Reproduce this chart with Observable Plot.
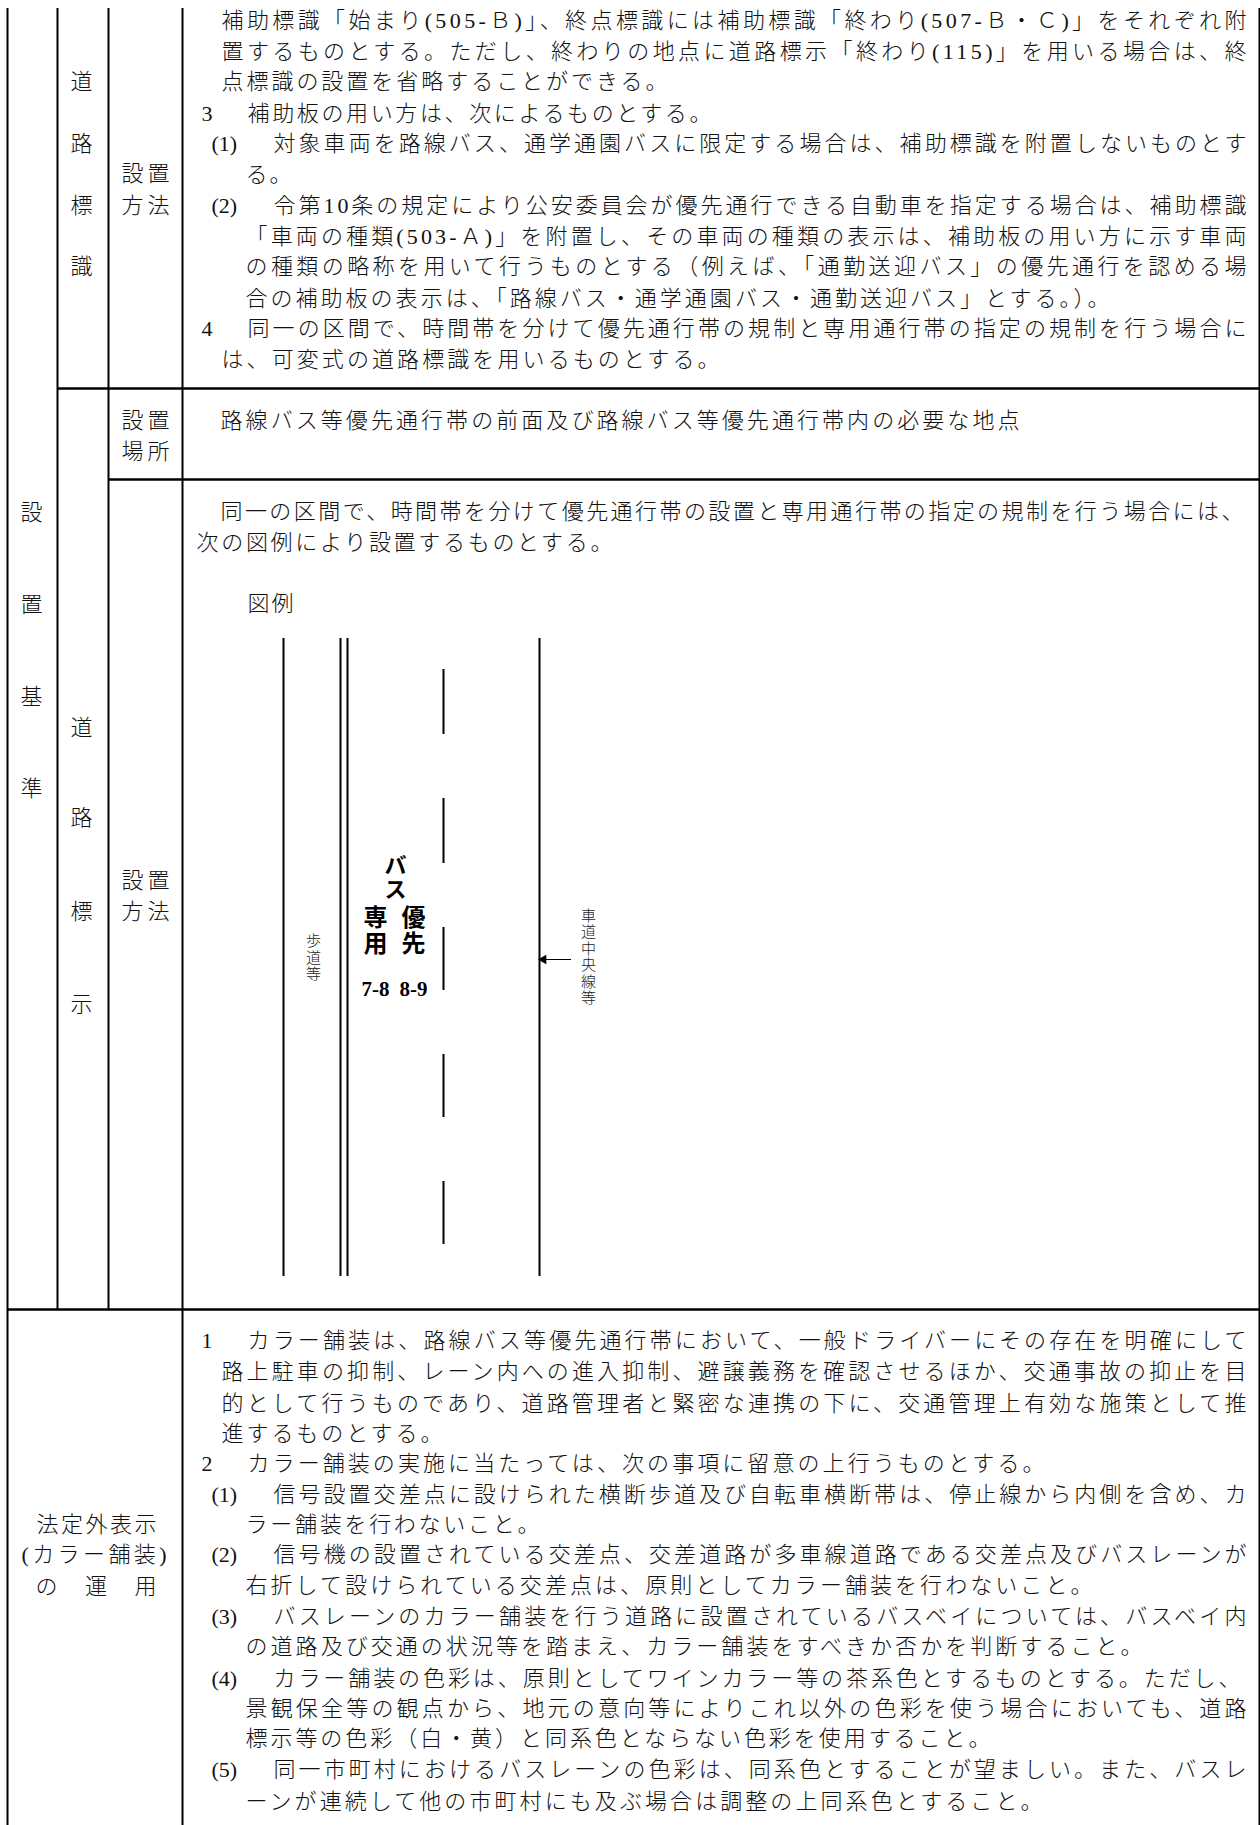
<!DOCTYPE html>
<html lang="ja">
<head>
<meta charset="utf-8">
<style>html,body{margin:0;padding:0;background:#fff}svg{display:block}</style>
<script src="https://cdn.jsdelivr.net/npm/d3@7"></script>
<script src="https://cdn.jsdelivr.net/npm/@observablehq/plot@0.6"></script>
</head>
<body>
<div id="chart"></div>
<script>
const mincho = '"Liberation Serif","Noto Sans CJK JP",serif';

// table rules
const vLines = [[7,8,1825],[57,8,1309],[108,8,1309],[182,8,1825],[1259,8,1825]];
const hLines = [[57,1259,388],[108,1259,479],[7,1259,1309]];

// body text: [text, start, end, centre]
const bodyLines = [
 ["補助標識「始まり(505-Ｂ)」、終点標識には補助標識「終わり(507-Ｂ・Ｃ)」をそれぞれ附",221,1246,20],
 ["置するものとする。ただし、終わりの地点に道路標示「終わり(115)」を用いる場合は、終",221,1246,51],
 ["点標識の設置を省略することができる。",221,667,81],
 ["補助板の用い方は、次によるものとする。",247,711,113],
 ["対象車両を路線バス、通学通園バスに限定する場合は、補助標識を附置しないものとす",273,1246,143],
 ["る。",245,291,174],
 ["令第10条の規定により公安委員会が優先通行できる自動車を指定する場合は、補助標識",273,1246,205],
 ["「車両の種類(503-Ａ)」を附置し、その車両の種類の表示は、補助板の用い方に示す車両",245,1246,236],
 ["の種類の略称を用いて行うものとする（例えば、「通勤送迎バス」の優先通行を認める場",245,1246,266],
 ["合の補助板の表示は、「路線バス・通学通園バス・通勤送迎バス」とする。）。",245,1109,298],
 ["同一の区間で、時間帯を分けて優先通行帯の規制と専用通行帯の指定の規制を行う場合に",247,1246,328],
 ["は、可変式の道路標識を用いるものとする。",221,719,359],
 ["路線バス等優先通行帯の前面及び路線バス等優先通行帯内の必要な地点",220,1019,420],
 ["同一の区間で、時間帯を分けて優先通行帯の設置と専用通行帯の指定の規制を行う場合には、",220,1243,511],
 ["次の図例により設置するものとする。",196,612,542],
 ["図例",247,293,603],
 ["カラー舗装は、路線バス等優先通行帯において、一般ドライバーにその存在を明確にして",247,1246,1340],
 ["路上駐車の抑制、レーン内への進入抑制、避譲義務を確認させるほか、交通事故の抑止を目",221,1246,1371],
 ["的として行うものであり、道路管理者と緊密な連携の下に、交通管理上有効な施策として推",221,1246,1403],
 ["進するものとする。",221,442,1433],
 ["カラー舗装の実施に当たっては、次の事項に留意の上行うものとする。",247,1044,1463],
 ["信号設置交差点に設けられた横断歩道及び自転車横断帯は、停止線から内側を含め、カ",273,1246,1494],
 ["ラー舗装を行わないこと。",245,539,1524],
 ["信号機の設置されている交差点、交差道路が多車線道路である交差点及びバスレーンが",273,1246,1554],
 ["右折して設けられている交差点は、原則としてカラー舗装を行わないこと。",245,1092,1585],
 ["バスレーンのカラー舗装を行う道路に設置されているバスベイについては、バスベイ内",273,1246,1616],
 ["の道路及び交通の状況等を踏まえ、カラー舗装をすべきか否かを判断すること。",245,1142,1646],
 ["カラー舗装の色彩は、原則としてワインカラー等の茶系色とするものとする。ただし、",273,1240,1678],
 ["景観保全等の観点から、地元の意向等によりこれ以外の色彩を使う場合においても、道路",245,1246,1708],
 ["標示等の色彩（白・黄）と同系色とならない色彩を使用すること。",245,990,1738],
 ["同一市町村におけるバスレーンの色彩は、同系色とすることが望ましい。また、バスレ",273,1246,1769],
 ["ーンが連続して他の市町村にも及ぶ場合は調整の上同系色とすること。",245,1042,1801]
];
const itemNumbers = [
 ["3",201,113],["(1)",211,143],["(2)",211,205],["4",201,328],
 ["1",201,1340],["2",201,1463],["(1)",211,1494],["(2)",211,1554],
 ["(3)",211,1616],["(4)",211,1678],["(5)",211,1769]
];
const sideLabels = [
 ["法定外表示",36,156,1524],["(カラー舗装)",21,166,1554],["の 運 用",35,156,1586]
];
const cellLabels = [
 ["設",31,512],["置",31,604],["基",31,696],["準",31,788],
 ["道",81,81],["路",81,143],["標",81,205],["識",81,266],
 ["道",81,727],["路",81,817],["標",81,911],["示",81,1004],
 ["設置",145,173],["方法",145,205],["設置",145,420],["場所",145,451],["設置",145,880],["方法",145,911]
];

// road diagram
const roadLines = [[283,638,1276],[340,638,1276],[347,638,1276],[539,638,1276]];
const laneDashes = [[443,669,734],[443,798,863],[443,927,990],[443,1054,1117],[443,1181,1244]];
const signBus = [["バ\nス",395,877]];
const signBig = [["専\n用",375,930],["優\n先",413,930]];
const signHours = [["7-8",375,989],["8-9",413,989]];
const smallNotes = [
 ["歩\n道\n等",313,957],
 ["車\n道\n中\n央\n線\n等",588,956]
];
const arrowShaft = [[545,571,959]];
const arrowHead = [[543,959]];

const plot = Plot.plot({
  width: 1260, height: 1825,
  marginTop: 0, marginRight: 0, marginBottom: 0, marginLeft: 0,
  style: {background: "#fff"},
  x: {domain: [0, 1260], range: [0, 1260], axis: null},
  y: {domain: [0, 1825], range: [0, 1825], axis: null},
  marks: [
    Plot.ruleX(vLines, {x: d => d[0], y1: d => d[1], y2: d => d[2], stroke: "#000", strokeWidth: 2}),
    Plot.ruleY(hLines, {x1: d => d[0], x2: d => d[1], y: d => d[2], stroke: "#000", strokeWidth: 2.5}),
    Plot.ruleX(roadLines, {x: d => d[0], y1: d => d[1], y2: d => d[2], stroke: "#000", strokeWidth: 2}),
    Plot.ruleX(laneDashes, {x: d => d[0], y1: d => d[1], y2: d => d[2], stroke: "#000", strokeWidth: 2}),
    Plot.ruleY(arrowShaft, {x1: d => d[0], x2: d => d[1], y: d => d[2], stroke: "#000", strokeWidth: 1}),
    Plot.dot(arrowHead, {x: d => d[0], y: d => d[1], symbol: "triangle", r: 3.6, fill: "#000", rotate: -90}),
    Plot.text(bodyLines, {text: d => d[0], x: d => d[1], y: d => d[3], textAnchor: "start", lineAnchor: "middle", fontSize: 22, fontFamily: mincho, fontWeight: 300, fill: "#111"}),
    Plot.text(itemNumbers, {text: d => d[0], x: d => d[1], y: d => d[2], textAnchor: "start", lineAnchor: "middle", fontSize: 22, fontFamily: mincho, fill: "#111"}),
    Plot.text(sideLabels, {text: d => d[0], x: d => d[1], y: d => d[3], textAnchor: "start", lineAnchor: "middle", fontSize: 22, fontFamily: mincho, fontWeight: 300, fill: "#111"}),
    Plot.text(cellLabels, {text: d => d[0], x: d => d[1], y: d => d[2], lineAnchor: "middle", fontSize: 22, fontFamily: mincho, fontWeight: 300, fill: "#111"}),
    Plot.text(signBus, {text: d => d[0], x: d => d[1], y: d => d[2], lineAnchor: "middle", lineHeight: 1.1, fontSize: 22, fontFamily: mincho, fontWeight: 700, fill: "#000"}),
    Plot.text(signBig, {text: d => d[0], x: d => d[1], y: d => d[2], lineAnchor: "middle", lineHeight: 1.1, fontSize: 24, fontFamily: mincho, fontWeight: 700, fill: "#000"}),
    Plot.text(signHours, {text: d => d[0], x: d => d[1], y: d => d[2], lineAnchor: "middle", fontSize: 21, fontFamily: mincho, fontWeight: 700, fill: "#000"}),
    Plot.text(smallNotes, {text: d => d[0], x: d => d[1], y: d => d[2], lineAnchor: "middle", lineHeight: 1.1, fontSize: 15, fontFamily: mincho, fontWeight: 300, fill: "#222"})
  ]
});

// stretch each justified line across its measured span, as the typeset page does
const spans = new Map([...bodyLines, ...sideLabels].map(d => [d[0], d[2] - d[1]]));
plot.querySelectorAll("text").forEach(t => {
  const s = t.textContent;
  if (spans.has(s)) t.setAttribute("textLength", spans.get(s));
  else if (/^(設置|方法|場所)$/.test(s)) t.setAttribute("textLength", 48);
  else return;
  t.setAttribute("lengthAdjust", "spacing");
});
document.getElementById("chart").append(plot);
</script>
</body>
</html>
